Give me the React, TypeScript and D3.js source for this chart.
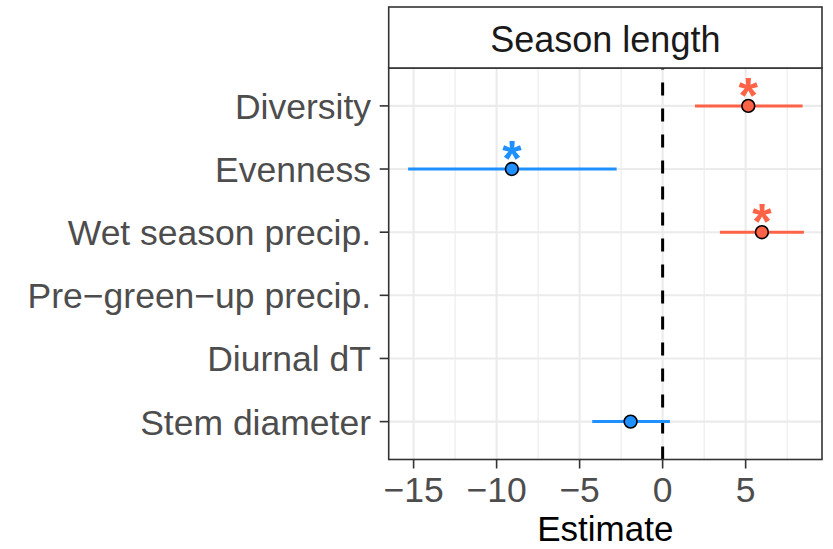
import { useEffect, useRef } from "react";
import * as d3 from "d3";

const variables = [
  "Diversity",
  "Evenness",
  "Wet season precip.",
  "Pre\u2212green\u2212up precip.",
  "Diurnal dT",
  "Stem diameter",
];
const estimates = [5.16, -9.08, 5.98, null, null, -1.93];
const lower = [1.95, -15.33, 3.45, null, null, -4.24];
const upper = [8.43, -2.77, 8.51, null, null, 0.44];
const significant = [true, true, true, false, false, false];
const xTicks = [-15, -10, -5, 0, 5];
const xMinor = [-12.5, -7.5, -2.5, 2.5, 7.5];
const panelTitle = "Season length";
const xTitle = "Estimate";

export default function App() {
  const ref = useRef<SVGSVGElement>(null);

  useEffect(() => {
    const svg = d3.select(ref.current);
    svg.selectAll("*").remove();

    const width = 833;
    const height = 549;
    const panel = { left: 388.7, right: 822, top: 68, bottom: 459.5 };
    const stripTop = 7;
    const font = "'Liberation Sans', Arial, Helvetica, sans-serif";
    const red = "#FF6347";
    const blue = "#1E90FF";

    svg.attr("width", width).attr("height", height);

    const x = d3.scaleLinear().domain([-16.5, 9.6]).range([panel.left, panel.right]);
    const y = d3
      .scalePoint()
      .domain(variables)
      .range([panel.top, panel.bottom])
      .padding(0.6);

    const data = variables.map((v, i) => ({
      v,
      est: estimates[i],
      lo: lower[i],
      hi: upper[i],
      sig: significant[i],
    }));
    const color = (d: any) => (d.est > 0 ? red : blue);

    // panel background + grid
    svg.append("rect")
      .attr("x", panel.left).attr("y", panel.top)
      .attr("width", panel.right - panel.left).attr("height", panel.bottom - panel.top)
      .attr("fill", "white");

    const grid = svg.append("g");
    grid.selectAll("line.minor")
      .data(xMinor)
      .join("line")
      .attr("x1", d => x(d)).attr("x2", d => x(d))
      .attr("y1", panel.top).attr("y2", panel.bottom)
      .attr("stroke", "#EBEBEB").attr("stroke-width", 1.1);
    grid.selectAll("line.majx")
      .data(xTicks)
      .join("line")
      .attr("x1", d => x(d)).attr("x2", d => x(d))
      .attr("y1", panel.top).attr("y2", panel.bottom)
      .attr("stroke", "#EBEBEB").attr("stroke-width", 2.1);
    grid.selectAll("line.majy")
      .data(variables)
      .join("line")
      .attr("x1", panel.left).attr("x2", panel.right)
      .attr("y1", d => y(d)!).attr("y2", d => y(d)!)
      .attr("stroke", "#EBEBEB").attr("stroke-width", 2.1);

    // zero line, dashes start from the bottom
    svg.append("line")
      .attr("x1", x(0)).attr("x2", x(0))
      .attr("y1", panel.bottom).attr("y2", panel.top)
      .attr("stroke", "black").attr("stroke-width", 3)
      .attr("stroke-dasharray", "13,13");

    const rows = data.filter(d => d.est !== null);

    svg.selectAll("line.ci")
      .data(rows)
      .join("line")
      .attr("x1", d => x(d.lo!)).attr("x2", d => x(d.hi!))
      .attr("y1", d => y(d.v)!).attr("y2", d => y(d.v)!)
      .attr("stroke", color).attr("stroke-width", 3);

    svg.selectAll("circle")
      .data(rows)
      .join("circle")
      .attr("cx", d => x(d.est!)).attr("cy", d => y(d.v)!)
      .attr("r", 6.4)
      .attr("fill", color)
      .attr("stroke", "black").attr("stroke-width", 1.6);

    svg.selectAll("text.star")
      .data(rows.filter(d => d.sig))
      .join("text")
      .attr("x", d => x(d.est!)).attr("y", d => y(d.v)! + 7)
      .attr("text-anchor", "middle")
      .attr("font-family", font).attr("font-size", 50)
      .attr("font-weight", "bold")
      .attr("fill", color)
      .text("*");

    // panel border
    svg.append("rect")
      .attr("x", panel.left).attr("y", panel.top)
      .attr("width", panel.right - panel.left).attr("height", panel.bottom - panel.top)
      .attr("fill", "none").attr("stroke", "#333333").attr("stroke-width", 1.6);

    // strip
    svg.append("rect")
      .attr("x", panel.left).attr("y", stripTop)
      .attr("width", panel.right - panel.left).attr("height", panel.top - stripTop)
      .attr("fill", "white").attr("stroke", "#333333").attr("stroke-width", 1.6);
    svg.append("text")
      .attr("x", (panel.left + panel.right) / 2).attr("y", 51.5)
      .attr("text-anchor", "middle")
      .attr("font-family", font).attr("font-size", 36)
      .attr("fill", "#1A1A1A")
      .text(panelTitle);

    // y axis
    const yAxis = svg.append("g");
    yAxis.selectAll("line")
      .data(variables)
      .join("line")
      .attr("x1", panel.left - 9).attr("x2", panel.left)
      .attr("y1", d => y(d)!).attr("y2", d => y(d)!)
      .attr("stroke", "#333333").attr("stroke-width", 1.6);
    yAxis.selectAll("text")
      .data(variables)
      .join("text")
      .attr("x", 371).attr("y", d => y(d)! + 13)
      .attr("text-anchor", "end")
      .attr("font-family", font).attr("font-size", 35.5)
      .attr("fill", "#4D4D4D")
      .text(d => d);

    // x axis
    const xAxis = svg.append("g");
    xAxis.selectAll("line")
      .data(xTicks)
      .join("line")
      .attr("x1", d => x(d)).attr("x2", d => x(d))
      .attr("y1", panel.bottom).attr("y2", panel.bottom + 9)
      .attr("stroke", "#333333").attr("stroke-width", 1.6);
    xAxis.selectAll("text")
      .data(xTicks)
      .join("text")
      .attr("x", d => x(d)).attr("y", 501.5)
      .attr("text-anchor", "middle")
      .attr("font-family", font).attr("font-size", 35.5)
      .attr("fill", "#4D4D4D")
      .text(d => (d < 0 ? "\u2212" + Math.abs(d) : String(d)));

    svg.append("text")
      .attr("x", (panel.left + panel.right) / 2).attr("y", 541)
      .attr("text-anchor", "middle")
      .attr("font-family", font).attr("font-size", 35)
      .attr("fill", "black")
      .text(xTitle);
  }, []);

  return (
    <svg
      ref={ref}
      style={{ position: "absolute", left: 0, top: 0, display: "block" }}
    ></svg>
  );
}
